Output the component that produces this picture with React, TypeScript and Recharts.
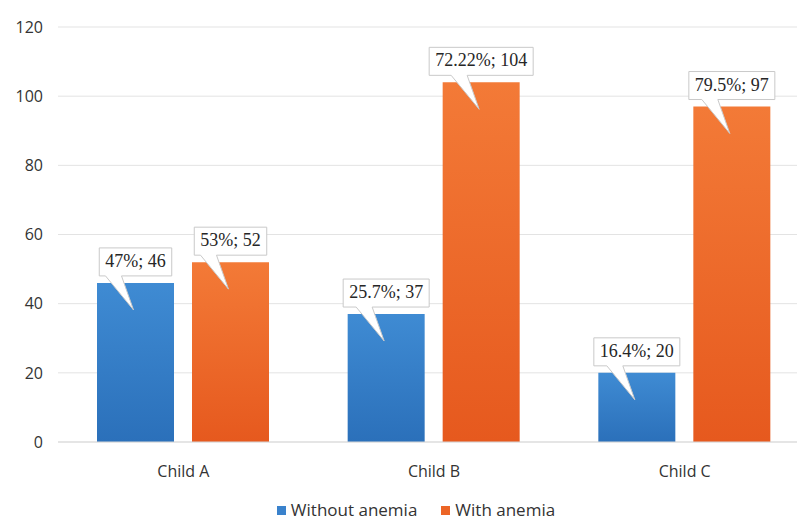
import { BarChart, Bar, XAxis, YAxis, CartesianGrid, Legend, LabelList } from "recharts";

const categories = ["Child A", "Child B", "Child C"];
const withoutAnemia = [46, 37, 20];
const withAnemia = [52, 104, 97];
const withoutPct = ["47%", "25.7%", "16.4%"];
const withPct = ["53%", "72.22%", "79.5%"];
const yTicks = [0, 20, 40, 60, 80, 100, 120];
const seriesNames = ["Without anemia", "With anemia"];
const seriesColors = ["#3a82cc", "#ec6526"];

const data = categories.map((name, i) => ({
  name,
  without: withoutAnemia[i],
  with: withAnemia[i],
}));

const LABEL_FONT = "18px 'Liberation Serif'";
const AXIS_FONT = "'Open Sans', sans-serif";

let ctx: CanvasRenderingContext2D | null = null;
function textWidth(text: string) {
  if (!ctx && typeof document !== "undefined") {
    ctx = document.createElement("canvas").getContext("2d");
  }
  if (!ctx) return text.length * 9;
  ctx.font = LABEL_FONT;
  return ctx.measureText(text).width;
}

function makeCallout(pcts: string[], values: number[]) {
  return function Callout(props: any) {
    const { x, y, width, index } = props;
    const text = `${pcts[index]}; ${values[index]}`;
    const cx = x + width / 2;
    const w = textWidth(text) + 12;
    const h = 28;
    const bottom = y - 7;
    const top = bottom - h;
    const left = cx - w / 2;
    const right = cx + w / 2;
    const tipY = y + 27;
    const d = `M${left},${top} L${right},${top} L${right},${bottom} L${cx - 14},${bottom} L${cx - 2},${tipY} L${cx - 30},${bottom} L${left},${bottom} Z`;
    return (
      <g>
        <path d={d} fill="#ffffff" stroke="#c9c9c9" strokeWidth={1} />
        <text
          x={cx}
          y={top + h / 2 + 1}
          textAnchor="middle"
          dominantBaseline="middle"
          fontFamily="'Liberation Serif', serif"
          fontSize={18}
          fill="#262626"
        >
          {text}
        </text>
      </g>
    );
  };
}

const WithoutCallout = makeCallout(withoutPct, withoutAnemia);
const WithCallout = makeCallout(withPct, withAnemia);

function LegendBox() {
  return (
    <div
      style={{
        display: "flex",
        justifyContent: "center",
        gap: 24,
        paddingTop: 16,
        paddingLeft: 22,
        fontFamily: AXIS_FONT,
        fontSize: 17,
        lineHeight: "20px",
        color: "#333333",
      }}
    >
      {seriesNames.map((n, i) => (
        <span key={n} style={{ display: "flex", alignItems: "center" }}>
          <span style={{ width: 9, height: 9, background: seriesColors[i], marginRight: 5, display: "inline-block" }} />
          {n}
        </span>
      ))}
    </div>
  );
}

export default function App() {
  return (
    <div style={{ position: "fixed", top: 0, left: 0, width: 797, height: 520, overflow: "hidden", background: "#fff" }}>
      <BarChart
        width={810}
        height={520}
        data={data}
        margin={{ top: 27, right: 0, bottom: 0, left: 0 }}
        barSize={77}
        barGap={18}
      >
        <defs>
          <linearGradient id="gBlue" x1="0" y1="0" x2="0" y2="1">
            <stop offset="0%" stopColor="#3f8bd3" />
            <stop offset="100%" stopColor="#2b70ba" />
          </linearGradient>
          <linearGradient id="gOrange" x1="0" y1="0" x2="0" y2="1">
            <stop offset="0%" stopColor="#f37a37" />
            <stop offset="100%" stopColor="#e6591e" />
          </linearGradient>
        </defs>
        <CartesianGrid vertical={false} stroke="#e3e3e3" />
        <XAxis
          dataKey="name"
          height={42}
          tickLine={false}
          axisLine={{ stroke: "#d9d9d9" }}
          tickMargin={18}
          tick={{ fill: "#333333", fontSize: 16, fontFamily: AXIS_FONT }}
        />
        <YAxis
          width={58}
          domain={[0, 120]}
          ticks={yTicks}
          axisLine={false}
          tickLine={false}
          tickMargin={9}
          tick={{ fill: "#333333", fontSize: 16, fontFamily: AXIS_FONT }}
        />
        <Legend height={36} content={() => <LegendBox />} />
        <Bar dataKey="without" name={seriesNames[0]} fill="url(#gBlue)" isAnimationActive={false}>
          <LabelList dataKey="without" content={WithoutCallout} />
        </Bar>
        <Bar dataKey="with" name={seriesNames[1]} fill="url(#gOrange)" isAnimationActive={false}>
          <LabelList dataKey="with" content={WithCallout} />
        </Bar>
      </BarChart>
    </div>
  );
}
